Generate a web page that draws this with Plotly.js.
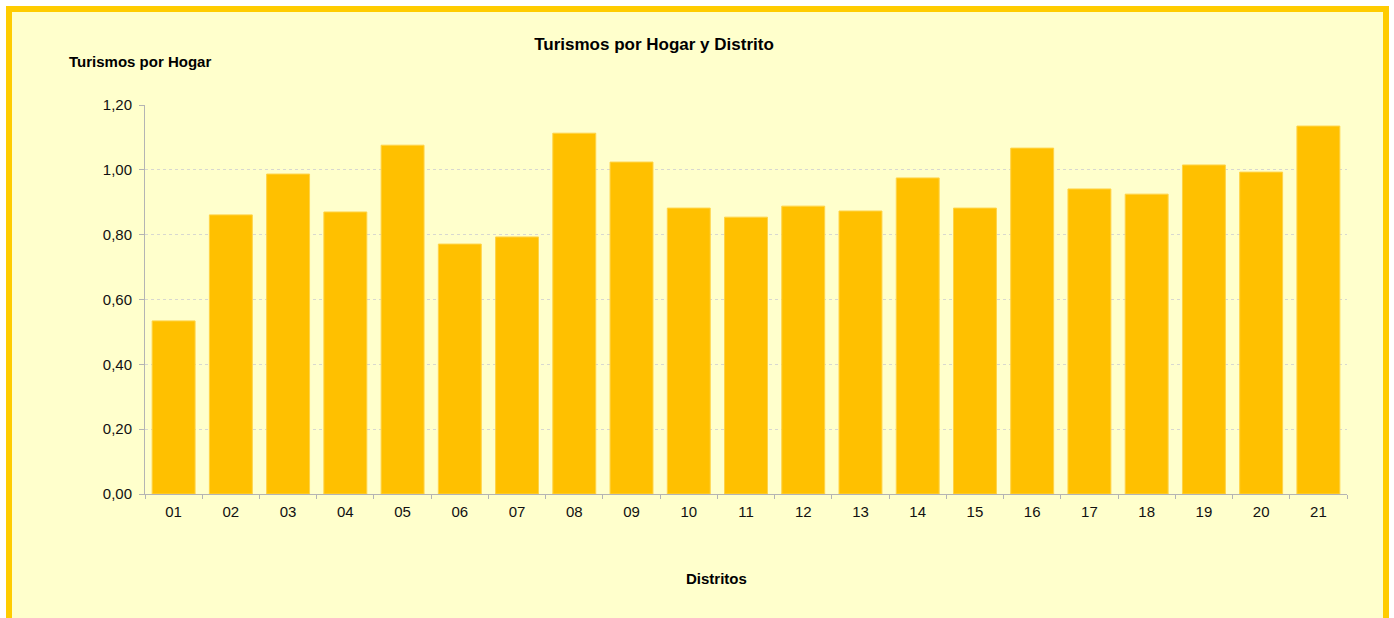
<!DOCTYPE html>
<html>
<head>
<meta charset="utf-8">
<script src="https://cdn.plot.ly/plotly-3.0.1.min.js"></script>
<style>
html,body{margin:0;padding:0;background:#fff;overflow:hidden;}
#frame{position:absolute;left:6px;top:6px;width:1371px;height:700px;border:6px solid #FFCC00;background:#FFFFCC;}
#chart{position:absolute;left:0;top:0;width:1394px;height:618px;}
</style>
</head>
<body>
<div id="frame"></div>
<div id="chart"></div>
<script>
const distritos = ["01","02","03","04","05","06","07","08","09","10","11","12","13","14","15","16","17","18","19","20","21"];
const turismosPorHogar = [0.534,0.861,0.987,0.870,1.076,0.771,0.793,1.113,1.024,0.882,0.854,0.888,0.873,0.975,0.882,1.067,0.941,0.925,1.015,0.993,1.135];
const yTicks = [0,0.2,0.4,0.6,0.8,1.0,1.2];

const trace = {
  type:'bar', x:distritos, y:turismosPorHogar,
  marker:{color:'#FFC000', line:{color:'#FFD347', width:1}},
  hoverinfo:'x+y'
};
const fam = '"Liberation Sans", Arial, sans-serif';
const font = {family:fam, size:15, color:'#111'};
const layout = {
  width:1394, height:618,
  margin:{l:145, r:47, t:105, b:124},
  paper_bgcolor:'rgba(0,0,0,0)', plot_bgcolor:'rgba(0,0,0,0)',
  separators:',.',
  font:font,
  bargap:0.25,
  showlegend:false,
  title:{text:'<b>Turismos por Hogar y Distrito</b>', font:{family:fam, size:17, color:'#000'},
    xref:'container', yref:'container', x:654/1394, xanchor:'center', y:1-44/618, yanchor:'middle'},
  xaxis:{type:'category', tickson:'boundaries', ticks:'outside', ticklen:4, tickcolor:'#B4B4B4',
    showline:true, linecolor:'#B4B4B4', linewidth:1, showgrid:false, tickfont:font, fixedrange:true,
    ticklabelstandoff:4},
  yaxis:{range:[0,1.2], tickvals:yTicks, tickformat:'.2f', ticks:'outside', ticklen:5, tickcolor:'#B4B4B4',
    showline:true, linecolor:'#B4B4B4', linewidth:1, showgrid:true, gridcolor:'#D8D8D0', griddash:'dot',
    gridwidth:1, zeroline:false, tickfont:font, fixedrange:true, ticklabelstandoff:4},
  annotations:[
    {text:'<b>Turismos por Hogar</b>', xref:'paper', yref:'paper', x:(67-145)/1202, y:(494-62)/389,
      xanchor:'left', yanchor:'middle', showarrow:false, font:{family:fam, size:15, color:'#000'}},
    {text:'<b>Distritos</b>', xref:'paper', yref:'paper', x:(716-145)/1202, y:(494-578)/389,
      xanchor:'center', yanchor:'middle', showarrow:false, font:{family:fam, size:15, color:'#000'}}
  ]
};
Plotly.newPlot('chart',[trace],layout,{displayModeBar:false, staticPlot:true});
</script>
</body>
</html>
